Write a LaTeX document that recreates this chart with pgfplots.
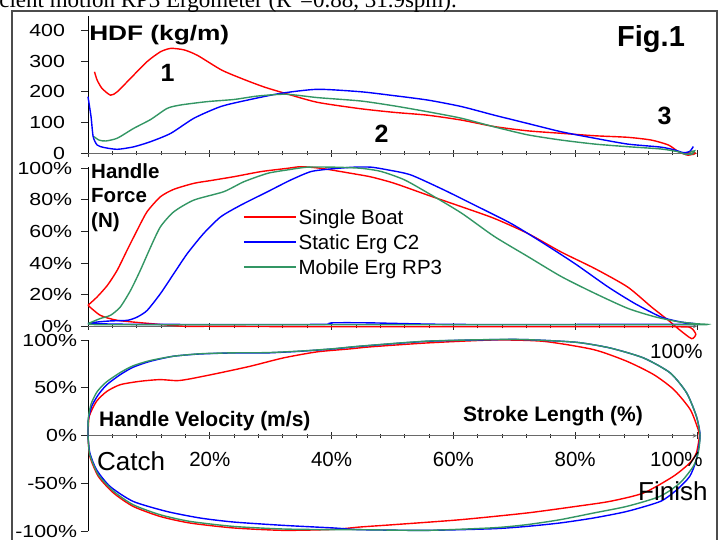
\documentclass[border=0pt]{standalone}
\usepackage{pgfplots}
\pgfplotsset{compat=1.18}
\usepackage{fontspec}
\setmainfont{Liberation Sans}
\newfontfamily\seriffont{Liberation Serif}
\definecolor{sbred}{RGB}{255,0,0}
\definecolor{c2blue}{RGB}{0,0,255}
\definecolor{rpgreen}{RGB}{51,150,100}
\definecolor{axgray}{RGB}{105,105,105}

\pgfplotsset{
  panel/.style={
    scale only axis, width=609pt, clip=false,
    xmin=0, xmax=100,
    xtick={0,20,40,60,80,100}, xticklabels={},
    minor x tick num=4,
    axis y line=left,
    axis line style={-, line width=0.9pt},
    x axis line style={axgray},
    y axis line style={black},
    tick align=outside,
    major tick length=7pt, minor tick length=4pt,
    tick style={line width=0.8pt, black!85},
    yticklabel style={font=\fontsize{17.5}{18}\selectfont, xscale=1.22, inner xsep=0pt},
  },
  curve/.style={line width=1.4pt, smooth, tension=0.4},
}

\begin{document}
\begin{tikzpicture}
\useasboundingbox (0,0) rectangle (725pt,539pt);

%% ---------- HDF ----------
\begin{axis}[panel, at={(88pt,385.7pt)}, anchor=south west, height=136.9pt,
  axis x line=bottom, ymin=0, ymax=445,
  ytick={0,100,200,300,400}, yticklabels={0,100,200,300,400},
  yticklabel style={xshift=-13pt}]
\addplot[curve, sbred] coordinates {
 (1.07,265) (1.5,238) (2.3,211) (3.7,189) (4.8,200) (7.0,244) (9.7,298)
 (11.9,330) (13.6,341) (15.8,336) (18.0,318) (22,270) (26,237) (29,215)
 (32,197) (37.6,166) (44.7,145) (50.3,133) (55.7,124) (61.3,108) (66.7,87)
 (72.2,73) (77.7,65) (83.2,57) (88.6,52) (92.5,43) (95.3,27) (96.9,6)
 (98.5,-6) (99.7,0) (99.2,6) (98.4,2)};
\addplot[curve, c2blue] coordinates {
 (0,184) (0.5,119) (0.85,54) (1.5,27) (2.6,19) (4.8,13) (7.5,21) (10.3,38)
 (13.6,65) (17.4,114) (21.8,152) (26.2,173) (31.7,195) (37.7,208) (44.8,200)
 (50,188) (55.8,173) (61.3,152) (66.7,124) (72.2,97) (77.7,70) (83.2,49)
 (88.6,30) (94.1,20) (96.3,11) (97.8,2) (98.8,6) (99.4,22)};
\addplot[curve, rpgreen] coordinates {
 (1.0,54) (1.8,43) (2.9,40) (4.8,49) (7.5,81) (10.3,110) (13.0,146)
 (15.2,157) (19.6,168) (24,175) (27.8,186) (32.5,192) (37.7,181) (44.8,170)
 (50.3,154) (55.8,135) (61.3,114) (66.7,86) (72.2,60) (77.7,43) (83.2,30)
 (88.6,21.5) (94.1,14) (96.9,5) (98.2,-4) (99.2,-2) (99.6,8) (98.8,3)};
\end{axis}

%% ---------- Handle force ----------
\begin{axis}[panel, at={(88pt,212.7pt)}, anchor=south west, height=159.6pt,
  axis x line=bottom, ymin=0, ymax=101,
  ytick={0,20,40,60,80,100},
  yticklabels={0\%,20\%,40\%,60\%,80\%,100\%},
  yticklabel style={xshift=-7pt},
  legend style={at={(axis cs:25.45,75.5)}, anchor=north west, draw=none,
    fill=none, inner sep=0pt, row sep=5pt,
    font=\fontsize{20.5}{20.5}\selectfont,
    nodes={text height=17pt, text depth=3pt, inner ysep=0pt}},
  legend cell align=left,
  legend image code/.code={\draw[#1, line width=1.4pt] (0pt,0pt) -- (52pt,0pt);}]
\addplot[curve, sbred] coordinates {
 (0,13.3) (1.5,18.6) (3.2,26) (4.8,35.5) (6.4,48) (8.1,61) (9.7,72.5)
 (11.9,82) (14.1,86.7) (17.4,90.5) (20.1,92.2) (24,94.7) (28.4,97.9)
 (32.8,100) (35,101) (38.2,100) (43.2,96.8) (46.5,94.5) (50.3,90.5)
 (55.8,83) (61.3,75.7) (66.7,68.3) (72.2,58.8) (77.7,47) (83.2,36.6)
 (88.6,24.9) (92.5,12.3) (95.3,3.8) (96.9,-1.5) (99.1,-7.8) (99.8,-5)
 (99,-1) (97,-0.3) (80,-0.3) (60,-0.3) (40,-0.3) (20,0) (15.8,0)
 (10.3,1.7) (4.8,3.8) (2,7) (0,13.3)};
\addlegendentry{Single Boat}
\addplot[curve, c2blue] coordinates {
 (0,1.7) (1.5,2.7) (3.7,3.4) (6.5,3.8) (8.1,5.9) (9.7,10) (11.9,20.7)
 (14.1,33.4) (16.3,46) (19,58.8) (21.8,69.3) (25.1,76.7) (29.5,85.2)
 (33.3,92.6) (36.6,97.9) (39.9,99.6) (43.7,100.7) (46.5,100.7) (49.2,99)
 (53,95.8) (58.5,86.2) (64,75.7) (69.5,65) (74.4,53.5) (79.9,39.8)
 (85.4,24.9) (89.8,14.4) (94.1,5.9) (97.4,2.7) (99.6,1.7) (99.8,1.2)
 (90,1.2) (60,1.2) (46,2.2) (40,2.2) (38,1.2) (10,1.2) (3,1.5) (0,1.7)};
\addlegendentry{Static Erg C2}
\addplot[curve, rpgreen] coordinates {
 (0,1.7) (2,4.9) (3.7,7) (5.3,12.2) (7,22.8) (8.6,35.5) (10.3,50.3)
 (11.9,63) (14.1,72.5) (17.4,79.9) (22.3,85.2) (25.6,91.5) (29.5,96.8)
 (32.8,99) (36,100.7) (40.4,100.7) (44.8,100) (48.1,98) (51.9,92.8)
 (55.8,84.4) (61.3,71.7) (66.7,56.9) (72.2,44.2) (77.7,31.5) (83.2,20.9)
 (88.6,11.4) (93,6.1) (96.9,2.9) (99.6,1.7) (99.8,1) (60,1) (20,1) (2,1)
 (0,1.7)};
\addlegendentry{Mobile Erg RP3}
\end{axis}

%% ---------- Handle velocity ----------
\begin{axis}[panel, at={(88pt,7.7pt)}, anchor=south west, height=191.3pt,
  axis x line=middle, ymin=-100, ymax=100,
  ytick={-100,-50,0,50,100},
  yticklabels={-100\%,-50\%,0\%,50\%,100\%},
  yticklabel style={xshift=-3pt}]
\addplot[curve, sbred] coordinates {
 (0,0) (0.2,20) (1.4,35.9) (3.1,46.3) (5.3,53.3) (8.5,56.8) (11.8,58.6)
 (14.6,57.5) (16.7,59.3) (21.1,64.9) (26.6,72.5) (32.1,81.3) (37.6,87.6)
 (43,90.7) (46.3,92.8) (55.6,96.9) (66.6,100) (74.8,98.6) (83,90)
 (88.5,77.7) (92.9,63.8) (96.2,48.1) (98.9,27.2) (100.2,6.3) (100.4,0)
 (99.9,-18) (98.8,-28.6) (96.1,-42.6) (91.2,-60) (85.7,-68.7) (80.2,-73.9)
 (72,-80.9) (61.1,-87.9) (50.1,-93.1) (44.7,-95.5) (40.3,-98) (32.1,-99)
 (23.9,-96.5) (16.7,-91.3) (11.8,-84.4) (7.4,-73.9) (4.2,-60) (1.7,-42.6)
 (0.3,-21.6) (0,0)};
\addplot[curve, c2blue] coordinates {
 (0,0) (0.05,16.7) (0.6,30.6) (1.7,42.9) (3.1,53.3) (5.3,63.8) (7.4,71.5)
 (10.2,77.7) (14,83) (18.4,85.4) (23.9,86.5) (29.3,86.5) (34.8,88.2)
 (40.3,90.7) (44.7,93.4) (55.6,98.6) (66.6,100.4) (72,100.4) (80.2,97.6)
 (85.7,91.7) (91.2,81.3) (95.6,65.6) (98.3,44.7) (99.9,20.2) (100.5,0)
 (99.9,-25.1) (98.8,-42.6) (96.7,-56.5) (94,-68.7) (88.5,-79.2) (83,-86.1)
 (77.5,-91.3) (72,-94.9) (66.6,-97.3) (55.6,-99) (44.7,-98.3) (40.3,-96.5)
 (32.1,-93.8) (23.9,-90.3) (18.4,-86.1) (12.9,-79.2) (7.4,-68.7) (3.6,-53)
 (1.4,-35.6) (0.3,-18) (0,0)};
\addplot[curve, rpgreen] coordinates {
 (0,0) (0.05,18) (0.5,33) (1.5,46) (3,56) (5.3,66) (7.4,73) (10.2,78.5)
 (14,83) (18.4,85.6) (23.9,86.6) (29.3,86.8) (34.8,88.4) (40.3,90.9)
 (44.7,93.6) (55.6,98.8) (66.6,100.5) (72,100.4) (80.2,97.6) (85.7,91.7)
 (91.2,81.3) (95.6,65.6) (98.3,44.7) (99.9,20.2) (100.5,0) (100.2,-18)
 (99.4,-32) (97.2,-49.5) (93.9,-63.5) (88.5,-73.9) (83,-80.9) (77.5,-87.9)
 (72,-93.1) (66.6,-96.3) (55.6,-99) (44.7,-98.3) (40.3,-98.3) (32.1,-97.6)
 (23.9,-94.9) (16.7,-89.6) (11.8,-82.6) (7.4,-72.2) (4.2,-58.2) (1.7,-40.9)
 (0.3,-20) (0,0)};
\end{axis}

%% ---------- frame and texts ----------
\draw[line width=1.2pt, black!70] (12pt,-5pt) rectangle (717pt,528pt);
\node[anchor=base east, inner sep=0pt, font=\seriffont\fontsize{23}{23}\selectfont]
  at (457pt,531.5pt) {efficient motion RP3 Ergometer (R\textsuperscript{2}=0.88, 31.9spm).};

\node[anchor=base west, inner sep=0pt, xscale=1.25, font=\bfseries\fontsize{21}{21}\selectfont]
  at (89pt,498.5pt) {HDF (kg/m)};
\node[anchor=base west, inner sep=0pt, font=\bfseries\fontsize{29}{29}\selectfont]
  at (617pt,492.3pt) {Fig.1};
\node[anchor=base, inner sep=0pt, font=\bfseries\fontsize{25}{25}\selectfont] at (167.5pt,457pt) {1};
\node[anchor=base, inner sep=0pt, font=\bfseries\fontsize{25}{25}\selectfont] at (381.5pt,396pt) {2};
\node[anchor=base, inner sep=0pt, font=\bfseries\fontsize{25}{25}\selectfont] at (664.5pt,414pt) {3};

\node[anchor=north west, inner sep=0pt, align=left, font=\bfseries\fontsize{20.5}{24.5}\selectfont]
  at (91pt,376pt) {Handle\\Force\\(N)};

\node[anchor=base west, inner sep=0pt, font=\bfseries\fontsize{21}{21}\selectfont]
  at (99pt,113pt) {Handle Velocity (m/s)};
\node[anchor=base west, inner sep=0pt, font=\bfseries\fontsize{21}{21}\selectfont]
  at (463pt,117.3pt) {Stroke Length (\%)};

\node[anchor=base west, inner sep=0pt, font=\fontsize{26}{26}\selectfont] at (97pt,69pt) {Catch};
\node[anchor=base west, inner sep=0pt, font=\fontsize{26}{26}\selectfont] at (638pt,39pt) {Finish};
\node[anchor=base west, inner sep=0pt, font=\fontsize{20.5}{20.5}\selectfont] at (650pt,180.7pt) {100\%};
\node[anchor=base west, inner sep=0pt, font=\fontsize{20.5}{20.5}\selectfont] at (650pt,72.3pt) {100\%};
\foreach \xx/\lab in {209.8/20,331.6/40,453.4/60,575.2/80}
  \node[anchor=base, inner sep=0pt, font=\fontsize{20.5}{20.5}\selectfont] at (\xx pt,73pt) {\lab\%};
\end{tikzpicture}
\end{document}
